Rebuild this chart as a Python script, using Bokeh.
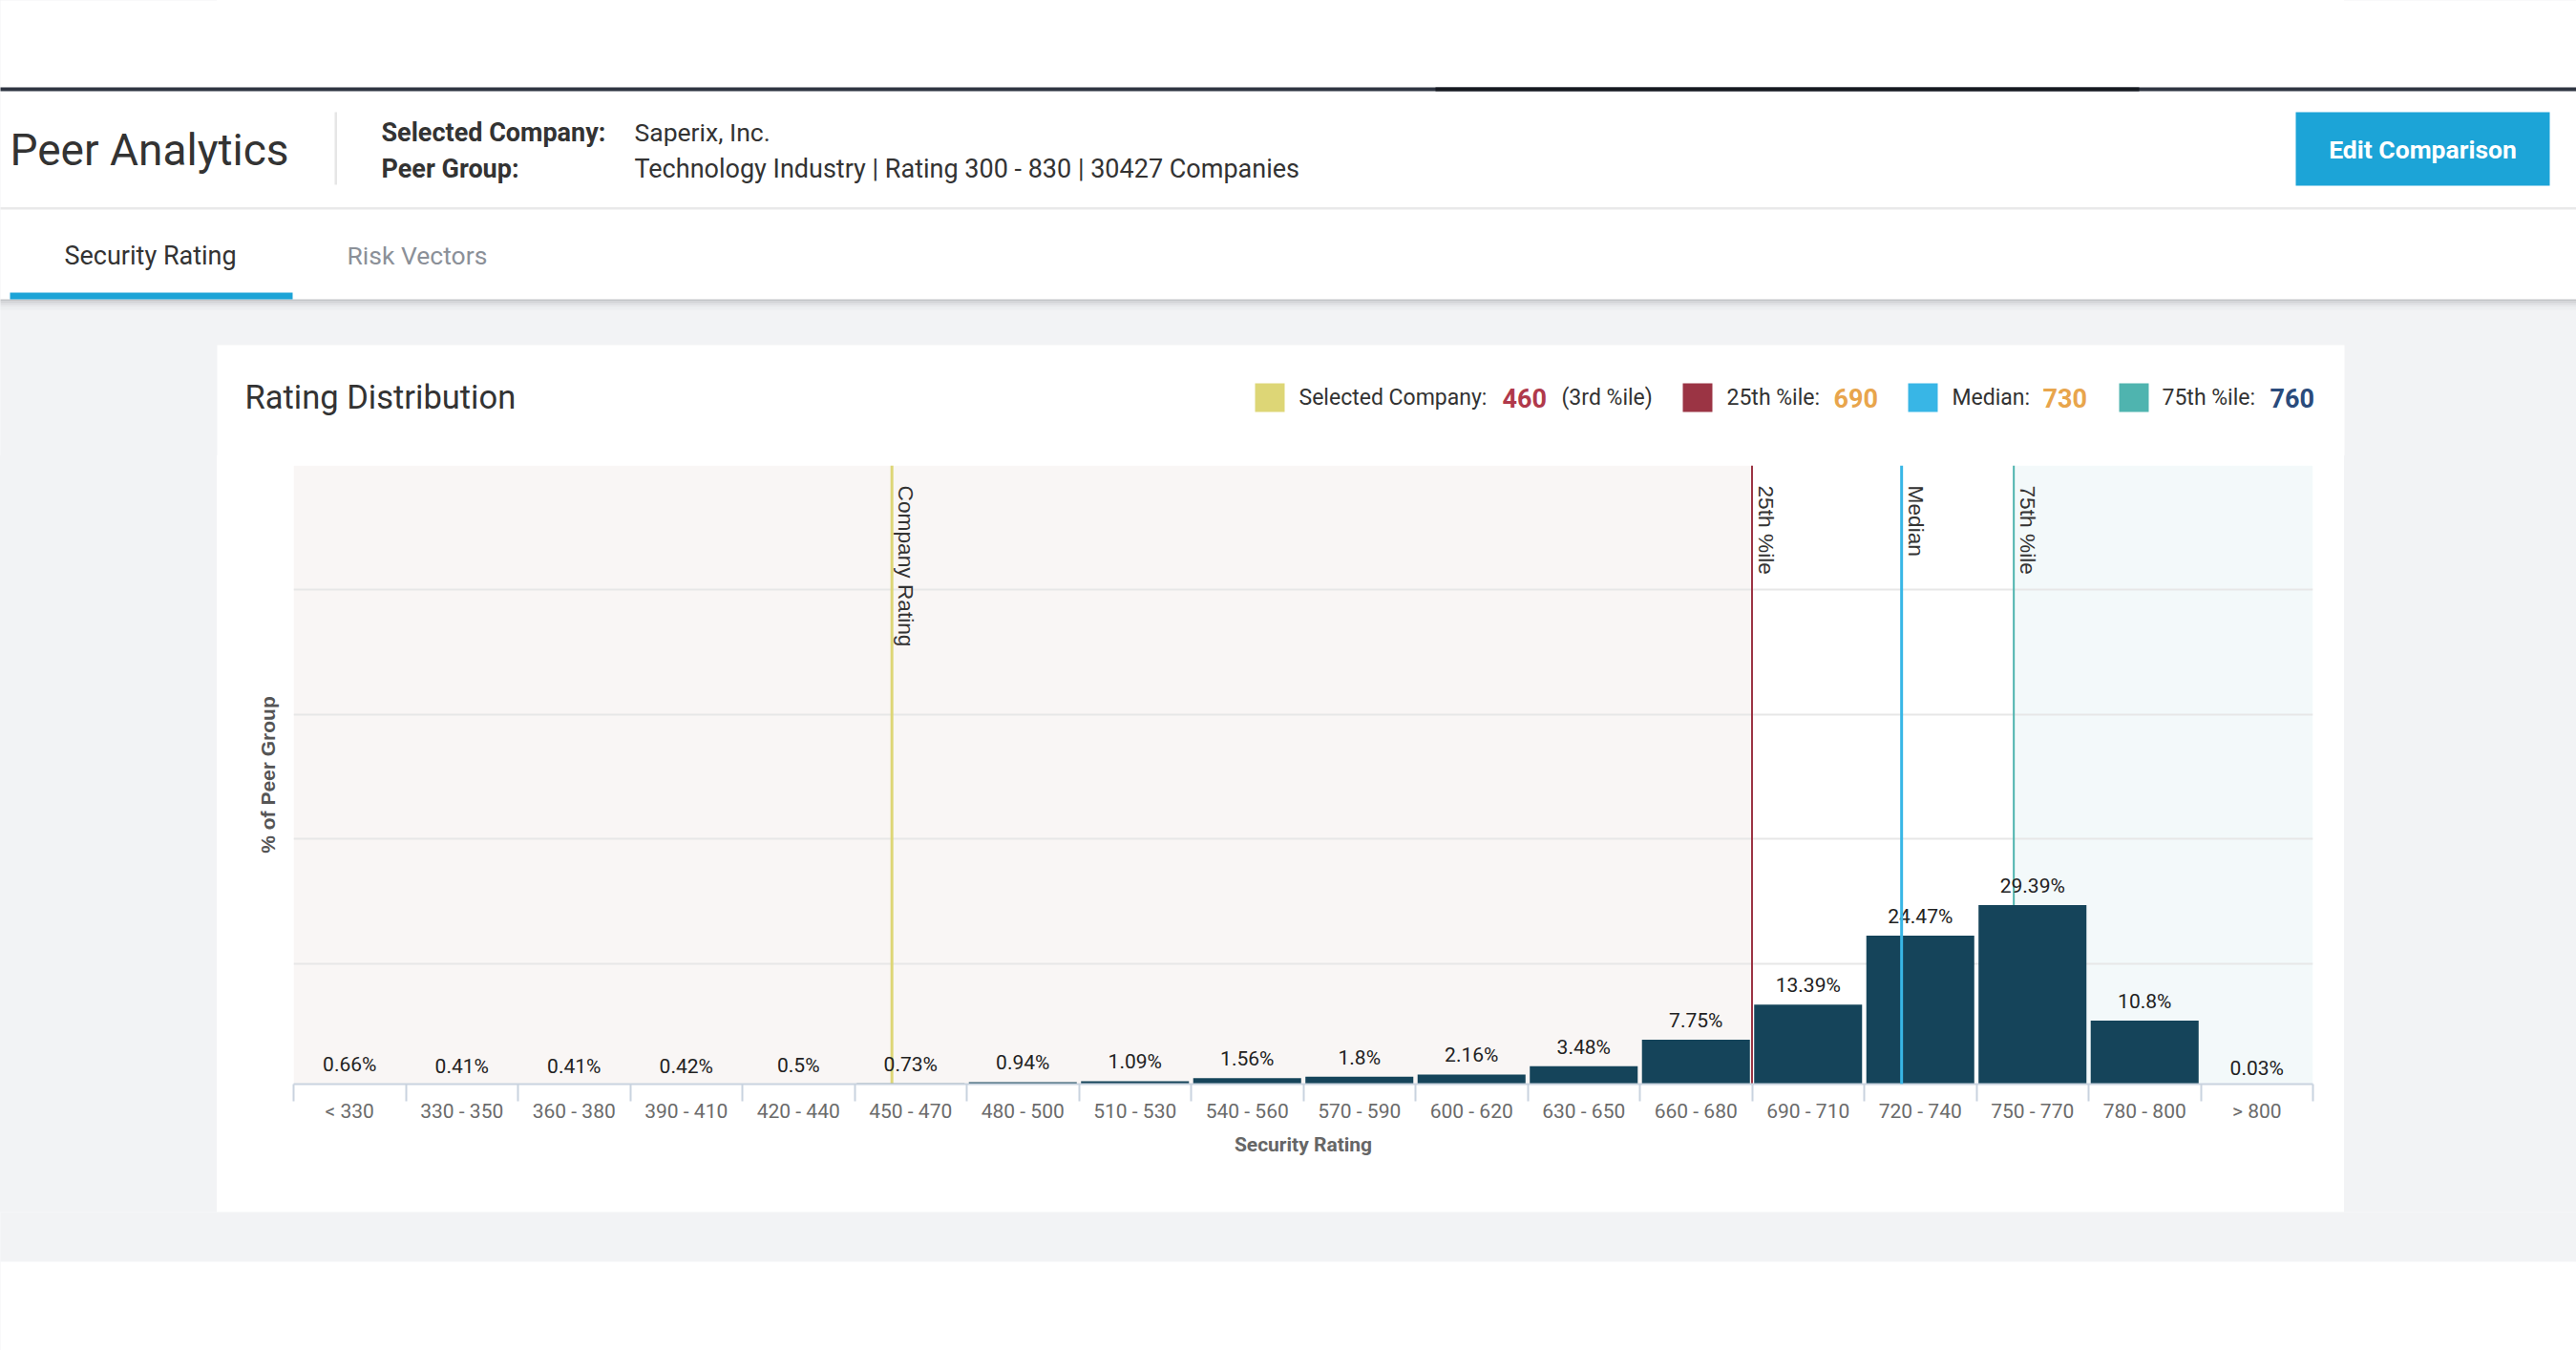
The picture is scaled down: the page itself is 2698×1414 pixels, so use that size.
import math
from bokeh.plotting import figure
from bokeh.layouts import column, row
from bokeh.models import Range1d, FixedTicker, CustomJSTickFormatter, Span
from bokeh.core.properties import value
from bokeh.embed import file_html
from bokeh.resources import INLINE

# ---------------- data ----------------
categories = ["< 330", "330 - 350", "360 - 380", "390 - 410", "420 - 440", "450 - 470",
              "480 - 500", "510 - 530", "540 - 560", "570 - 590", "600 - 620", "630 - 650",
              "660 - 680", "690 - 710", "720 - 740", "750 - 770", "780 - 800", "> 800"]
shares = [0.66, 0.41, 0.41, 0.42, 0.5, 0.73, 0.94, 1.09, 1.56, 1.8, 2.16, 3.48,
          7.75, 13.39, 24.47, 29.39, 10.8, 0.03]
bin_start = 300
bin_width = 30
company_name = "Saperix, Inc."
company_rating = 460
company_pctile = "3rd"
p25_rating = 690
median_rating = 730
p75_rating = 760
industry = "Technology Industry"
rating_low, rating_high = 300, 830
peer_count = 30427
y_ticks = [20, 40, 60, 80, 100]

GRAY = "#f2f3f5"
BAR = "#15445a"
C_YEL = "#ddd676"
C_RED = "#9b3444"
C_BLUE = "#38b6e6"
C_TEAL = "#4fb4af"
BTN = "#1ca4d7"
FONT = "Roboto"
W = 2698
CARD_L, CARD_R = 227, 2455


def pos(r):
    return (r - bin_start) / bin_width


def blank(fig):
    fig.outline_line_color = None
    for g in fig.grid:
        g.visible = False


def txt(fig, x, y, s, size, color, bold=False, align="left", font=FONT):
    fig.text(x=[x], y=[y], text=[s], text_font=value(font), text_font_size=f"{size}px",
             text_color=color, text_font_style="bold" if bold else "normal",
             text_align=align, text_baseline="middle")


def deco(w, h, x0, x1, y0, y1, bg):
    f = figure(width=w, height=h, x_range=Range1d(x0, x1), y_range=Range1d(y1, y0),
               x_axis_location=None, y_axis_location=None, output_backend="svg",
               toolbar_location=None, min_border=0, background_fill_color=bg,
               border_fill_color=bg)
    blank(f)
    return f


# ---------------- page header + card header (page px coords, y down) ----------------
H = deco(W, 477, 0, W, 0, 477, "white")
H.quad(left=[-10], right=[W + 10], top=[91], bottom=[95], color="#2f3542", line_color=None)
H.quad(left=[1503], right=[2240], top=[91], bottom=[95], color="#151920", line_color=None)
H.quad(left=[-10], right=[W + 10], top=[216.5], bottom=[219], color="#e9e9ea", line_color=None)
H.quad(left=[350], right=[352.5], top=[117], bottom=[193], color="#e6e6e6", line_color=None)
H.quad(left=[-10], right=[W + 10], top=[314], bottom=[495], color=GRAY, line_color=None)
for (a, b, c) in [(313, 315, "#c3c5c8"), (315, 317, "#d1d2d5"), (317, 319, "#dcdde0"),
                  (319, 321, "#e5e6e9"), (321, 324, "#eceef0")]:
    H.quad(left=[-10], right=[W + 10], top=[a], bottom=[b], color=c, line_color=None)
H.quad(left=[10], right=[306], top=[306], bottom=[313], color=BTN, line_color=None)
H.quad(left=[CARD_L], right=[CARD_R], top=[361], bottom=[495], color="white", line_color=None)
H.quad(left=[2404], right=[2670], top=[117], bottom=[194], color=BTN, line_color=None)

txt(H, 10, 156, "Peer Analytics", 46, "#333333")
txt(H, 399, 138, "Selected Company:", 27, "#333333", bold=True)
txt(H, 399, 176, "Peer Group:", 27, "#333333", bold=True)
txt(H, 664, 138, company_name, 26.5, "#333333")
txt(H, 664, 176, f"{industry} | Rating {rating_low} - {rating_high} | {peer_count} Companies",
    27, "#333333")
txt(H, 2537, 156, "Edit Comparison", 26.5, "white", bold=True, align="center")
txt(H, 67, 267, "Security Rating", 27, "#333333")
txt(H, 363, 267, "Risk Vectors", 26.5, "#8b9098")

txt(H, 256, 415, "Rating Distribution", 34.5, "#333333")
for (l, c) in [(1314, C_YEL), (1762, C_RED), (1998, C_BLUE), (2219, C_TEAL)]:
    H.quad(left=[l], right=[l + 31], top=[401], bottom=[431], color=c, line_color=None)
txt(H, 1360, 416, "Selected Company:", 23, "#333333")
txt(H, 1573, 416, str(company_rating), 27, "#b0394b", bold=True)
txt(H, 1635, 416, f"({company_pctile} %ile)", 23, "#333333")
txt(H, 1808, 416, "25th %ile:", 23, "#333333")
txt(H, 1920, 416, str(p25_rating), 27, "#e8a54c", bold=True)
txt(H, 2044, 416, "Median:", 23, "#333333")
txt(H, 2139, 416, str(median_rating), 27, "#e8a54c", bold=True)
txt(H, 2264, 416, "75th %ile:", 23, "#333333")
txt(H, 2377, 416, str(p75_rating), 27, "#2a4b7c", bold=True)

# ---------------- side spacers ----------------
GL = deco(CARD_L, 792, 0, 1, 0, 1, GRAY)
GR = deco(W - CARD_R, 792, 0, 1, 0, 1, GRAY)

# ---------------- chart ----------------
n = len(categories)
centers = [i + 0.5 for i in range(n)]
C = figure(width=CARD_R - CARD_L, height=792, x_range=Range1d(0, n), y_range=Range1d(0.62, 100),
           output_backend="svg", toolbar_location=None, min_border_left=80,
           min_border_right=33, min_border_top=10, min_border_bottom=134,
           background_fill_color="white", border_fill_color="white")
C.outline_line_color = None

C.quad(left=[0], right=[pos(p25_rating)], bottom=[0], top=[y_ticks[-1]],
       color="#f9f6f5", line_color=None, level="image")
C.quad(left=[pos(p75_rating)], right=[n], bottom=[0], top=[y_ticks[-1]],
       color="#f3f9fa", line_color=None, level="image")

C.xgrid.visible = False
C.ygrid.ticker = FixedTicker(ticks=y_ticks)
C.ygrid.grid_line_color = "#e7e7e7"
C.ygrid.grid_line_width = 2

C.add_layout(Span(location=pos(company_rating), dimension="height", line_color=C_YEL,
                  line_width=3, level="underlay"))
C.add_layout(Span(location=pos(p25_rating), dimension="height", line_color=C_RED,
                  line_width=2, level="underlay"))
C.add_layout(Span(location=pos(p75_rating), dimension="height", line_color=C_TEAL,
                  line_width=2, level="underlay"))

C.vbar(x=centers, top=shares, bottom=0, width=0.962, color=BAR, line_color=None)

C.add_layout(Span(location=pos(median_rating), dimension="height", line_color=C_BLUE,
                  line_width=3))

C.text(x=centers, y=shares, text=[f"{v}%" for v in shares], y_offset=-20,
       text_align="center", text_baseline="middle", text_font=value(FONT),
       text_font_size="21px", text_color="#222222")

C.text(x=[pos(company_rating), pos(p25_rating), pos(median_rating), pos(p75_rating)],
       y=[y_ticks[-1]] * 4, text=["Company Rating", "25th %ile", "Median", "75th %ile"],
       angle=-math.pi / 2, x_offset=15, y_offset=21, text_align="left",
       text_baseline="alphabetic", text_font=value("Liberation Sans"),
       text_font_size="22.7px", text_color="#333333")

xa = C.xaxis[0]
xa.ticker = FixedTicker(ticks=centers, minor_ticks=list(range(n + 1)))
xa.major_label_overrides = {c: lab for c, lab in zip(centers, categories)}
xa.axis_line_color = "#c9d3df"
xa.axis_line_width = 2
xa.major_tick_out = 0
xa.major_tick_in = 0
xa.minor_tick_out = 18
xa.minor_tick_in = 0
xa.minor_tick_line_color = "#c9d3df"
xa.minor_tick_line_width = 2
xa.major_label_text_font = FONT
xa.major_label_text_font_size = "21px"
xa.major_label_text_color = "#6b6b6b"
xa.major_label_standoff = -2
xa.axis_label = "Security Rating"
xa.axis_label_text_font = FONT
xa.axis_label_text_font_size = "21px"
xa.axis_label_text_font_style = "bold"
xa.axis_label_text_color = "#666666"
xa.axis_label_standoff = 8

ya = C.yaxis[0]
ya.ticker = FixedTicker(ticks=y_ticks)
ya.formatter = CustomJSTickFormatter(code="return ''")
ya.major_tick_out = 0
ya.major_tick_in = 0
ya.minor_tick_out = 0
ya.minor_tick_in = 0
ya.axis_line_color = None
ya.major_label_standoff = 0
ya.axis_label = "% of Peer Group"
ya.axis_label_text_font = "Liberation Sans"
ya.axis_label_text_font_size = "21px"
ya.axis_label_text_font_style = "bold"
ya.axis_label_text_color = "#555555"
ya.axis_label_standoff = 16

# ---------------- bottom ----------------
B = deco(W, 145, 0, W, 1269, 1414, "white")
B.quad(left=[-10], right=[W + 10], top=[1255], bottom=[1321], color=GRAY, line_color=None)

bg = (f"linear-gradient(to right, {GRAY} 0px, {GRAY} {CARD_L}px, #ffffff {CARD_L}px, "
      f"#ffffff {CARD_R}px, {GRAY} {CARD_R}px, {GRAY} 100%)")
page = column(H, row(GL, C, GR), B, styles={"background": bg})
open("out.html", "w").write(file_html(page, INLINE))
